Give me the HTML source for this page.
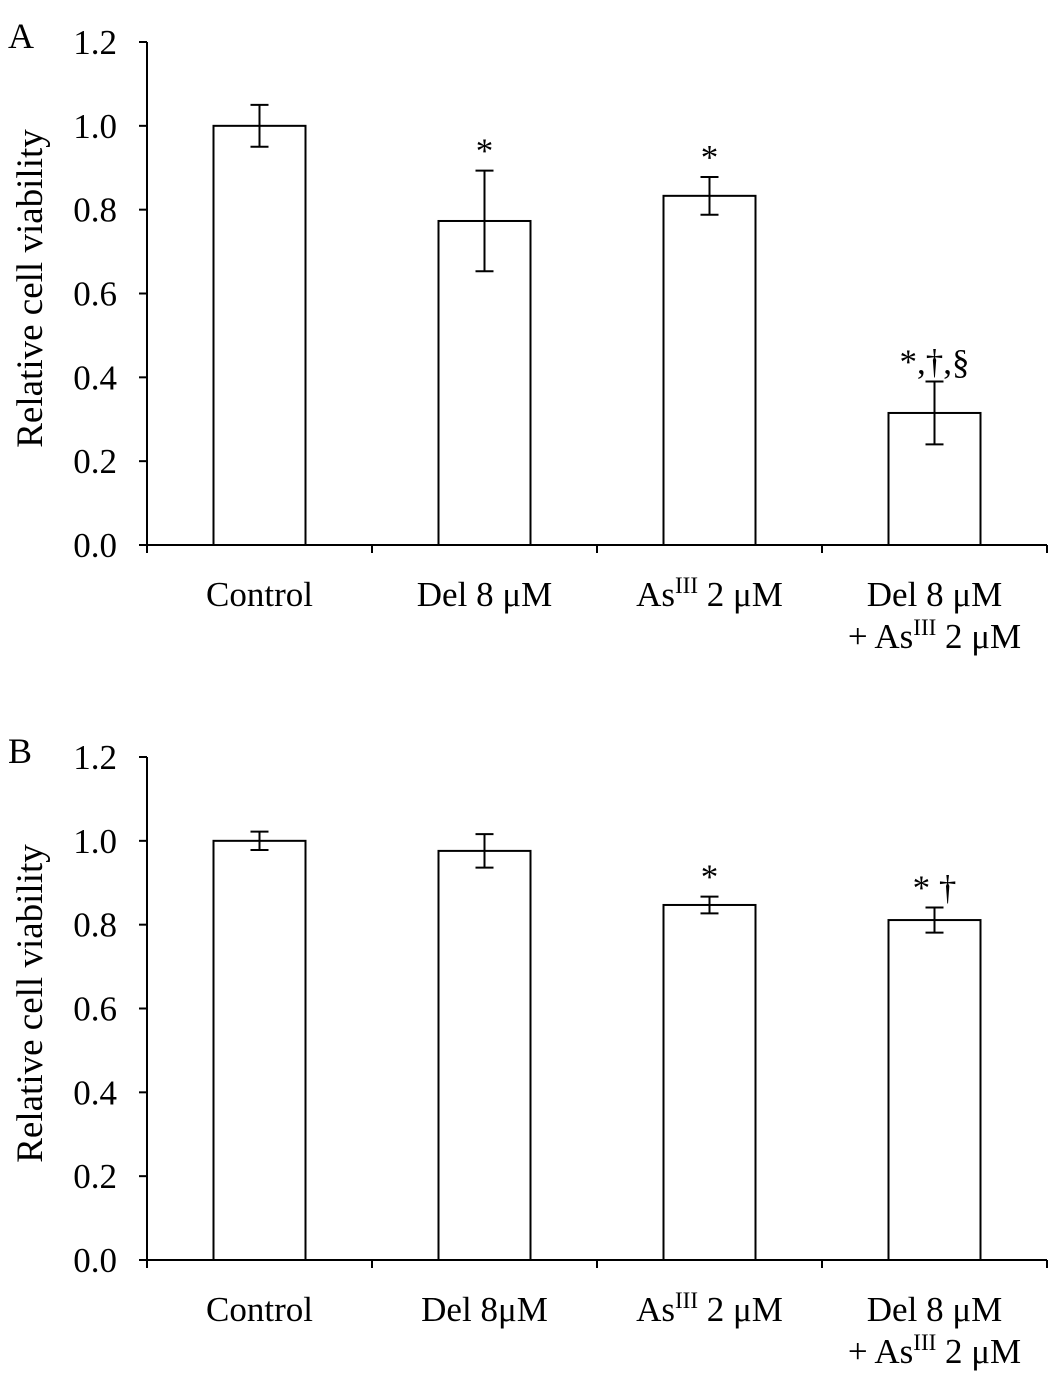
<!DOCTYPE html>
<html><head><meta charset="utf-8"><style>
html,body{margin:0;padding:0;background:#fff;}
svg{display:block;font-family:"Liberation Serif",serif;}
</style></head><body>
<svg id="chart" width="1063" height="1386" viewBox="0 0 1063 1386" xmlns="http://www.w3.org/2000/svg"></svg>
<script>
const categoriesA = ["Control", "Del 8 μM", "AsIII 2 μM", "Del 8 μM + AsIII 2 μM"];
const valuesA = [1.0, 0.773, 0.833, 0.315];
const errorsA = [0.05, 0.12, 0.045, 0.075];
const marksA = ["", "*", "*", "*,†,§"];
const valuesB = [1.0, 0.976, 0.847, 0.811];
const errorsB = [0.022, 0.04, 0.02, 0.03];
const marksB = ["", "", "*", "* †"];
const yTicks = [0.0, 0.2, 0.4, 0.6, 0.8, 1.0, 1.2];

const NS = "http://www.w3.org/2000/svg";
const svg = document.getElementById("chart");
function mk(tag, attrs, parent) {
  const e = document.createElementNS(NS, tag);
  for (const k in attrs) e.setAttribute(k, attrs[k]);
  (parent || svg).appendChild(e);
  return e;
}

function panel(letter, top, bottom, values, errors, marks, labels, id) {
  const g = mk("g", {});
  
  
  const x0 = 147, x1 = 1047;
  const y = v => bottom - (v / 1.2) * (bottom - top);
  const bw = (x1 - x0) / values.length;
  const xc = i => x0 + bw * (i + 0.5);

  const pl = mk("text", {x: 8, y: top + 6, "font-size": 36}, g);
  pl.textContent = letter;
  
  

  const ya = mk("line", {x1: x0, y1: top, x2: x0, y2: bottom, stroke: "#000", "stroke-width": 2}, g);
  
  
  yTicks.forEach(t => {
    mk("line", {x1: x0 - 8, y1: y(t), x2: x0, y2: y(t), stroke: "#000", "stroke-width": 2}, g);
    const tl = mk("text", {x: 117, y: y(t) + 12, "font-size": 35, "text-anchor": "end"}, g);
    tl.textContent = t.toFixed(1);
    
    
  });
  const yt = mk("text", {x: 0, y: 0, "font-size": 37, "text-anchor": "middle",
    transform: `translate(42,${(top + bottom) / 2 - 5}) rotate(-90)`}, g);
  yt.textContent = "Relative cell viability";
  
  

  const xa = mk("line", {x1: x0, y1: bottom, x2: x1, y2: bottom, stroke: "#000", "stroke-width": 2}, g);
  
  
  for (let i = 0; i <= values.length; i++) {
    mk("line", {x1: x0 + bw * i, y1: bottom, x2: x0 + bw * i, y2: bottom + 8, stroke: "#000", "stroke-width": 2}, g);
  }

  values.forEach((v, i) => {
    const w = 92;
    const r = mk("rect", {x: xc(i) - w / 2, y: y(v), width: w, height: bottom - y(v), fill: "#fff", stroke: "#000", "stroke-width": 2}, g);
    
    
    const e = errors[i], cx = xc(i);
    const eg = mk("g", {stroke: "#000", "stroke-width": 2}, g);
    
    
    mk("line", {x1: cx, y1: y(v + e), x2: cx, y2: y(v - e)}, eg);
    mk("line", {x1: cx - 9, y1: y(v + e), x2: cx + 9, y2: y(v + e)}, eg);
    mk("line", {x1: cx - 9, y1: y(v - e), x2: cx + 9, y2: y(v - e)}, eg);
    if (marks[i]) {
      const m = mk("text", {x: cx, y: y(v + e) - 8, "font-size": 35, "text-anchor": "middle"}, g);
      m.textContent = marks[i];
      
      
    }
  });

  labels.forEach((lines, i) => {
    lines.forEach((ln, j) => {
      const t = mk("text", {x: xc(i), y: bottom + 61 + j * 42, "font-size": 35, "text-anchor": "middle"}, g);
      t.innerHTML = ln;
      
      
    });
  });
}

const sup = 'As<tspan dy="-13" font-size="23">III</tspan><tspan dy="13"> 2 μM</tspan>';
panel("A", 42, 545, valuesA, errorsA, marksA,
  [["Control"], ["Del 8 μM"], [sup], ["Del 8 μM", "+ " + sup]], "a");
panel("B", 757, 1260, valuesB, errorsB, marksB,
  [["Control"], ["Del 8μM"], [sup], ["Del 8 μM", "+ " + sup]], "b");
</script>
</body></html>
